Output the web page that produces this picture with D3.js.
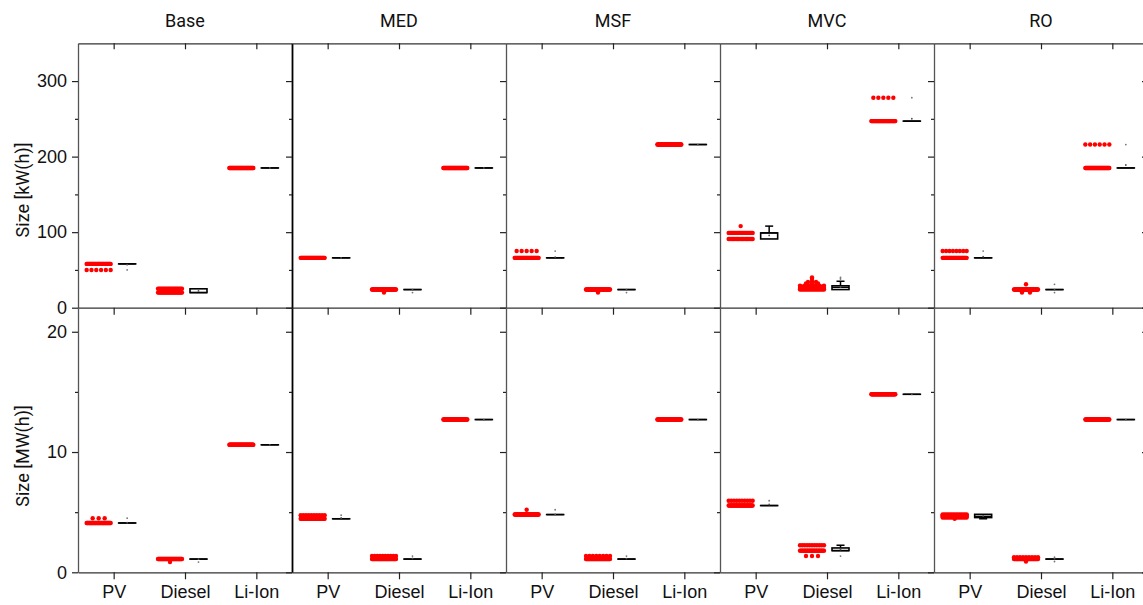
<!DOCTYPE html>
<html>
<head>
<meta charset="utf-8">
<script src="https://cdn.jsdelivr.net/npm/d3@7"></script>
<style>
  body { margin: 0; background: #fff; }
  svg { font-family: Roboto, "Noto Sans", sans-serif; }
</style>
</head>
<body>
<svg id="chart" width="1143" height="605"></svg>
<script>
const panels = ["Base", "MED", "MSF", "MVC", "RO"];
const techs = ["PV", "Diesel", "Li-Ion"];

// each group: [value, number of runs with that value]
// top row, kW(h)
const kwBase = [[[58, 40], [50, 6]], [[20, 26], [22, 4], [25, 20]], [[185, 45]]];
const kwMED  = [[[66, 45]], [[24, 44], [20, 1]], [[185, 45]]];
const kwMSF  = [[[66, 40], [75, 5]], [[24, 44], [20, 1]], [[216, 45]]];
const kwMVC  = [[[91, 20], [99, 25], [108, 1]],
                [[24, 16], [25, 4], [26, 6], [27, 5], [28, 5], [29, 6], [30, 3], [32, 3], [34, 2], [35, 1], [38, 1], [40, 1]],
                [[247, 45], [278, 5]]];
const kwRO   = [[[66, 40], [75, 8]], [[20, 2], [24, 45], [31, 1]], [[185, 42], [216, 6]]];

// bottom row, MW(h)
const mwBase = [[[4.1, 40], [4.5, 3]], [[1.1, 45], [0.85, 1]], [[10.6, 45]]];
const mwMED  = [[[4.45, 35], [4.75, 10]], [[1.1, 36], [1.35, 10]], [[12.7, 45]]];
const mwMSF  = [[[4.8, 45], [5.2, 1]], [[1.1, 38], [1.35, 8]], [[12.7, 45]]];
const mwMVC  = [[[5.55, 35], [5.95, 10]], [[1.35, 3], [1.8, 29], [2.25, 11]], [[14.8, 45]]];
const mwRO   = [[[4.45, 1], [4.55, 14], [4.65, 8], [4.75, 8], [4.82, 14]], [[0.9, 1], [1.1, 34], [1.25, 9]], [[12.7, 45]]];

const kwTicks = [0, 100, 200, 300], kwMinor = [50, 150, 250];
const mwTicks = [0, 10, 20], mwMinor = [5, 15];

const svg = d3.select("#chart");
const left = 78, panelW = 214;

const rows = [
  {data: [kwBase, kwMED, kwMSF, kwMVC, kwRO], y: d3.scaleLinear().domain([0, 350]).range([307.7, 43.3]),
   ticks: kwTicks, minor: kwMinor, label: "Size [kW(h)]", labelY: 190, xLabels: false},
  {data: [mwBase, mwMED, mwMSF, mwMVC, mwRO], y: d3.scaleLinear().domain([0, 22]).range([572.3, 307.7]),
   ticks: mwTicks, minor: mwMinor, label: "Size [MW(h)]", labelY: 456, xLabels: true}
];

const x = d3.scalePoint().domain(techs).range([0, panelW]).padding(0.5);

function styleAxis(g, col) {
  g.selectAll(".domain").attr("stroke", col).attr("stroke-width", 1.3);
  g.selectAll(".tick line").attr("stroke", "#222").attr("stroke-width", 1.2);
  g.selectAll(".tick text").attr("fill", "#111").attr("font-size", 18);
}

function expand(group) {
  let vals = [];
  group.forEach(([v, c]) => { for (let k = 0; k < c; k++) vals.push(v); });
  return vals.sort(d3.ascending);
}

rows.forEach((row, r) => {
  const y = row.y;
  const y0 = y.range()[0], y1 = y.range()[1];

  // y label
  svg.append("text")
    .attr("transform", "translate(29," + row.labelY + ") rotate(-90)")
    .attr("text-anchor", "middle")
    .attr("font-size", 18)
    .attr("fill", "#111")
    .text(row.label);

  for (let i = 0; i <= panels.length; i++) {
    const px = left + i * panelW;
    const col = i === 1 ? "#000" : "#555";

    const ax = svg.append("g").attr("transform", "translate(" + px + ",0)")
      .call(d3.axisLeft(y).tickValues(row.ticks).tickSize(6).tickSizeOuter(0).tickPadding(5)
        .tickFormat(i === 0 ? d3.format("d") : ""));
    styleAxis(ax, col);
    if (i === 1) ax.select(".domain").attr("stroke-width", 1.8);
    const mn = svg.append("g").attr("transform", "translate(" + px + ",0)")
      .call(d3.axisLeft(y).tickValues(row.minor).tickSize(3).tickFormat(""));
    mn.select(".domain").remove();
    mn.selectAll(".tick line").attr("stroke", "#222").attr("stroke-width", 1.2);

    if (i === panels.length) continue;

    // bottom axis
    const bx = svg.append("g").attr("transform", "translate(" + px + "," + y0 + ")")
      .call(d3.axisBottom(x).tickSize(7).tickSizeOuter(0).tickPadding(6)
        .tickFormat(row.xLabels ? d => d : ""));
    styleAxis(bx, "#333");

    // top border with inner ticks
    if (r === 0) {
      const tx = svg.append("g").attr("transform", "translate(" + px + "," + y1 + ")")
        .call(d3.axisBottom(x).tickSize(6).tickSizeOuter(0).tickFormat(""));
      styleAxis(tx, "#333");
      svg.append("text")
        .attr("x", px + panelW / 2).attr("y", 27)
        .attr("text-anchor", "middle")
        .attr("font-size", 18)
        .attr("fill", "#111")
        .text(panels[i]);
    }

    const g = svg.append("g").attr("transform", "translate(" + px + ",0)");
    row.data[i].forEach((group, t) => {
      const cx = x(techs[t]);

      // raw points, spread across a band left of the tick
      group.forEach(([v, c]) => {
        const half = Math.min(12, 2 * c);
        for (let k = 0; k < c; k++) {
          const off = c === 1 ? 0 : -half + 2 * half * k / (c - 1);
          g.append("circle")
            .attr("cx", cx - 15 + off)
            .attr("cy", y(v))
            .attr("r", 2.2)
            .attr("fill", "#ff0000");
        }
      });

      // box plot right of the tick
      const vals = expand(group);
      const q1 = d3.quantile(vals, 0.25), med = d3.quantile(vals, 0.5), q3 = d3.quantile(vals, 0.75);
      const iqr = q3 - q1;
      const inside = vals.filter(v => v >= q1 - 1.5 * iqr && v <= q3 + 1.5 * iqr);
      const lo = d3.min(inside), hi = d3.max(inside);
      const outl = Array.from(new Set(vals.filter(v => v < lo || v > hi)));
      const bx0 = cx + 5, bw = 17, bc = bx0 + bw / 2;

      if (hi > q3) {
        g.append("line").attr("x1", bc).attr("x2", bc).attr("y1", y(q3)).attr("y2", y(hi))
          .attr("stroke", "#000").attr("stroke-width", 1.5);
        g.append("line").attr("x1", bc - 4).attr("x2", bc + 4).attr("y1", y(hi)).attr("y2", y(hi))
          .attr("stroke", "#000").attr("stroke-width", 1.5);
      }
      if (lo < q1) {
        g.append("line").attr("x1", bc).attr("x2", bc).attr("y1", y(q1)).attr("y2", y(lo))
          .attr("stroke", "#000").attr("stroke-width", 1.5);
        g.append("line").attr("x1", bc - 4).attr("x2", bc + 4).attr("y1", y(lo)).attr("y2", y(lo))
          .attr("stroke", "#000").attr("stroke-width", 1.5);
      }
      g.append("rect")
        .attr("x", bx0).attr("width", bw)
        .attr("y", y(q3)).attr("height", Math.max(0.01, y(q1) - y(q3)))
        .attr("fill", "#fff").attr("stroke", "#000").attr("stroke-width", 1.6);
      g.append("line").attr("x1", bx0).attr("x2", bx0 + bw).attr("y1", y(med)).attr("y2", y(med))
        .attr("stroke", "#000").attr("stroke-width", 1.4);
      g.append("circle").attr("cx", bc).attr("cy", y(d3.mean(vals))).attr("r", 0.9).attr("fill", "#555");
      outl.forEach(v => {
        g.append("circle").attr("cx", bc).attr("cy", y(v)).attr("r", 0.9).attr("fill", "#777");
      });
    });
  }
});
</script>
</body>
</html>
